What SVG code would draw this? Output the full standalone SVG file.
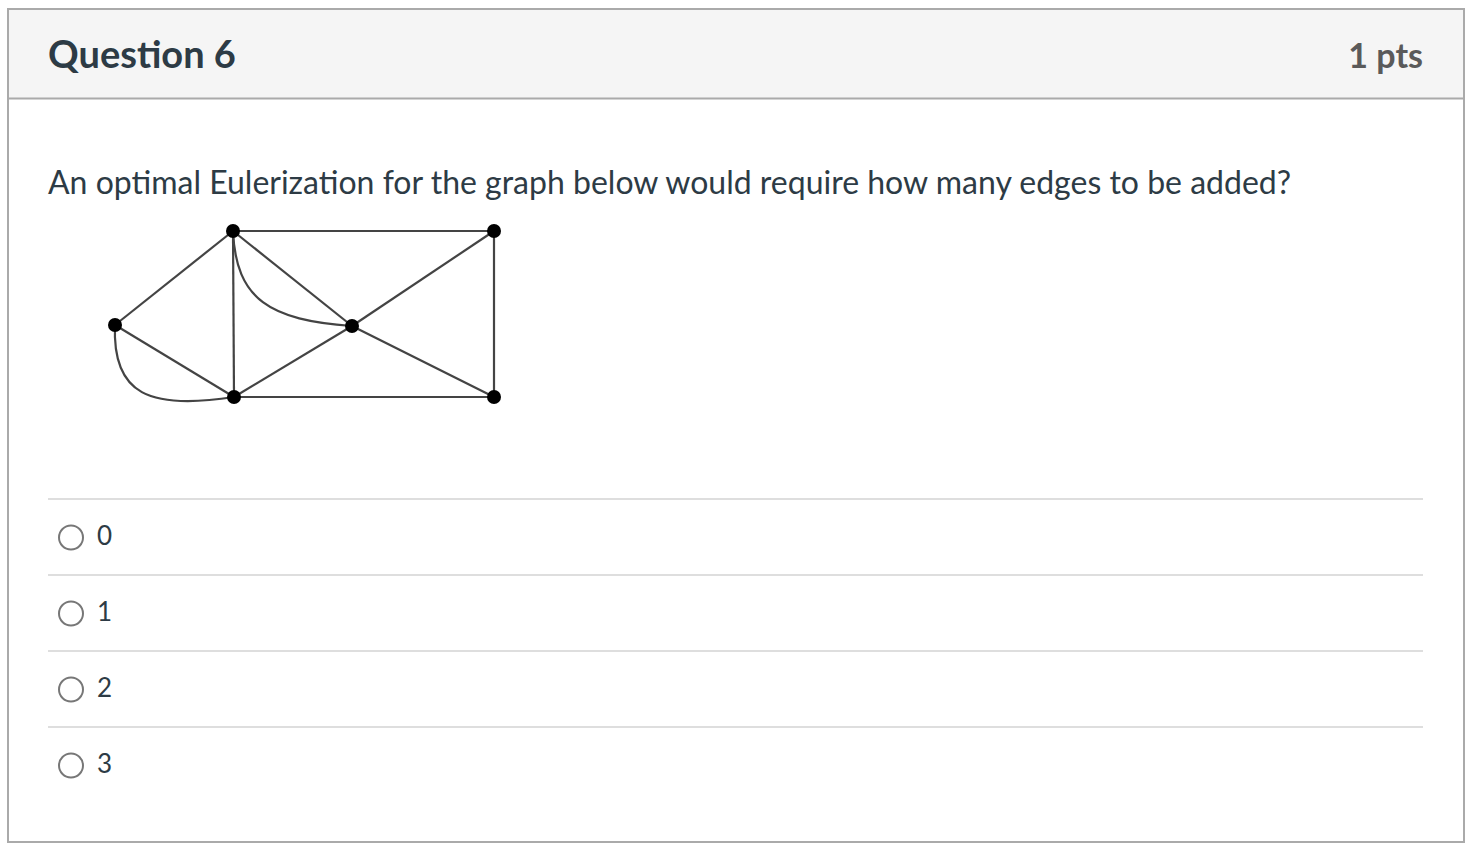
<svg xmlns="http://www.w3.org/2000/svg" width="1468" height="852" viewBox="0 0 1468 852">
<style>
.t{font-family:Lato,"Liberation Sans",sans-serif;fill:#2d3b45}
.e{stroke:#444;stroke-width:2.2;fill:none}
.n{fill:#000}
.sep{stroke:#dedede;stroke-width:2}
.rb{fill:#fff;stroke:#777;stroke-width:2}
.o{font-size:26px}
</style>
<rect x="0" y="0" width="1468" height="852" fill="#fff"/>
<rect x="8" y="9" width="1456" height="90" fill="#f5f5f5"/>
<rect x="8" y="9" width="1456" height="833" fill="none" stroke="#aaa" stroke-width="2"/>
<line x1="8" y1="98.5" x2="1464" y2="98.5" stroke="#aaa" stroke-width="2"/>
<text class="t" x="48" y="68" font-size="38" font-weight="bold">Question 6</text>
<text class="t" x="1423" y="68" font-size="34" font-weight="bold" text-anchor="end" style="fill:#5a5a5a">1 pts</text>
<text class="t" x="48" y="194" font-size="32">An optimal Eulerization for the graph below would require how many edges to be added?</text>
<g id="connectors">
<line class="e" x1="233" y1="231" x2="494" y2="231"/>
<line class="e" x1="233" y1="231" x2="115" y2="325"/>
<line class="e" x1="233" y1="231" x2="234" y2="397"/>
<line class="e" x1="233" y1="231" x2="352" y2="326"/>
<path class="e" d="M233,231 C236,300 270,320 352,326"/>
<line class="e" x1="494" y1="231" x2="352" y2="326"/>
<line class="e" x1="494" y1="231" x2="494" y2="397"/>
<line class="e" x1="115" y1="325" x2="234" y2="397"/>
<path class="e" d="M115,325 C112,395 150,410 234,397"/>
<line class="e" x1="352" y1="326" x2="234" y2="397"/>
<line class="e" x1="352" y1="326" x2="494" y2="397"/>
<line class="e" x1="234" y1="397" x2="494" y2="397"/>
</g>
<g id="node-tl"><circle class="n" cx="233" cy="231" r="7"/></g>
<g id="node-tr"><circle class="n" cx="494" cy="231" r="7"/></g>
<g id="node-l"><circle class="n" cx="115" cy="325" r="7"/></g>
<g id="node-c"><circle class="n" cx="352" cy="326" r="7"/></g>
<g id="node-bl"><circle class="n" cx="234" cy="397" r="7"/></g>
<g id="node-br"><circle class="n" cx="494" cy="397" r="7"/></g>
<line class="sep" x1="48" y1="499" x2="1423" y2="499"/>
<line class="sep" x1="48" y1="575" x2="1423" y2="575"/>
<line class="sep" x1="48" y1="651" x2="1423" y2="651"/>
<line class="sep" x1="48" y1="727" x2="1423" y2="727"/>
<g id="opt0"><circle class="rb" cx="71" cy="537.5" r="12"/><text class="t o" x="97" y="545">0</text></g>
<g id="opt1"><circle class="rb" cx="71" cy="613.5" r="12"/><text class="t o" x="97" y="621">1</text></g>
<g id="opt2"><circle class="rb" cx="71" cy="689.5" r="12"/><text class="t o" x="97" y="697">2</text></g>
<g id="opt3"><circle class="rb" cx="71" cy="765.5" r="12"/><text class="t o" x="97" y="773">3</text></g>
</svg>
